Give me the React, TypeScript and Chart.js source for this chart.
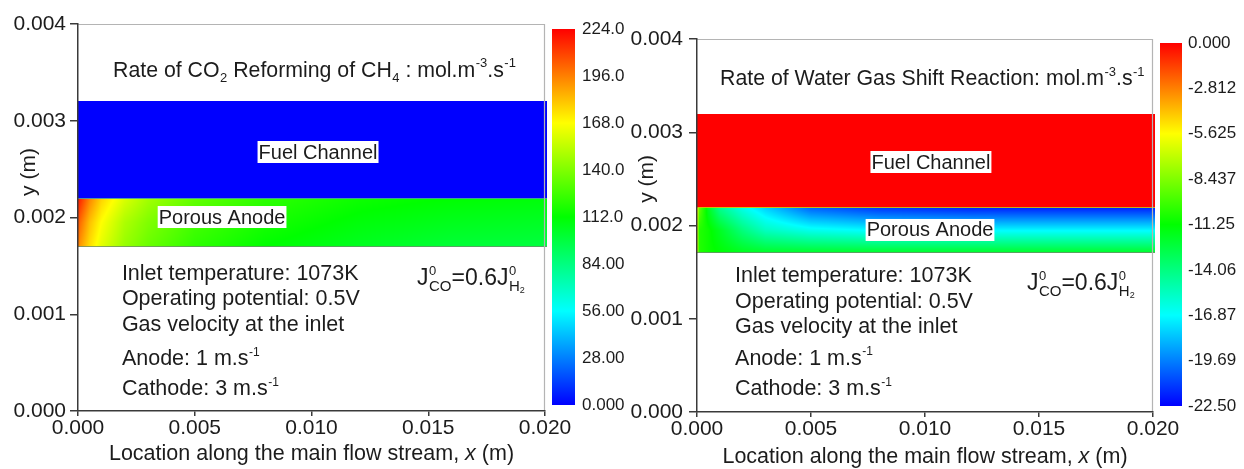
import React, { useEffect, useRef } from 'react';
import { Chart, registerables } from 'chart.js';
Chart.register(...registerables);

// ---------- data ----------
const xTickValues = [0, 0.005, 0.01, 0.015, 0.02];
const xTickLabels = ['0.000', '0.005', '0.010', '0.015', '0.020'];
const yTickValues = [0, 0.001, 0.002, 0.003, 0.004];
const yTickLabels = ['0.000', '0.001', '0.002', '0.003', '0.004'];

// sampling grid of the porous anode field (m)
const gridX = [0, 0.0001, 0.0005, 0.001, 0.002, 0.003, 0.005, 0.008, 0.012, 0.016, 0.02];
const gridY = [0.0022, 0.00195, 0.0017];

const channelRange = [0.0022, 0.0032];
const anodeRange = [0.0017, 0.0022];

// Rate of CO2 reforming of CH4 (mol m^-3 s^-1)
const reformTop = [220, 215, 195, 178, 160, 148, 134, 122, 115, 112, 110];
const reformMid = [208, 200, 182, 168, 150, 140, 127, 117, 110, 106, 104];
const reformBot = [198, 190, 175, 162, 145, 135, 122, 112, 105, 100, 98];
const reformChannel = 0;

// Rate of water gas shift reaction (mol m^-3 s^-1)
const wgsTop = [-5, -9, -12, -14.5, -16.5, -18, -20.5, -21.5, -22, -22, -22];
const wgsMid = [-6, -10.5, -11, -12, -14, -15.5, -16.5, -17, -17, -17, -17];
const wgsBot = [-6, -10.5, -11, -11.3, -11.8, -12, -12, -12, -12, -12, -12];
const wgsChannel = 0;

const reformBarValues = [224, 196, 168, 140, 112, 84, 56, 28, 0];
const reformBarLabels = ['224.0', '196.0', '168.0', '140.0', '112.0', '84.00', '56.00', '28.00', '0.000'];
const wgsBarValues = [0, -2.8125, -5.625, -8.4375, -11.25, -14.0625, -16.875, -19.6875, -22.5];
const wgsBarLabels = ['0.000', '-2.812', '-5.625', '-8.437', '-11.25', '-14.06', '-16.87', '-19.69', '-22.50'];

const infoLines = ['Inlet temperature: 1073K', 'Operating potential: 0.5V', 'Gas velocity at the inlet'];

// ---------- style ----------
const FONT = '"Liberation Sans", Arial, Helvetica, sans-serif';
const TEXT = '#1c1c1c';
const AXIS = '#3a3a3a';

const stops: [number, number[]][] = [
  [0, [0, 0, 255]],
  [0.25, [0, 255, 255]],
  [0.5, [0, 255, 0]],
  [0.75, [255, 255, 0]],
  [1, [255, 0, 0]],
];
function cmap(t: number): number[] {
  t = Math.max(0, Math.min(1, t));
  for (let i = 0; i < stops.length - 1; i++) {
    const [t0, c0] = stops[i];
    const [t1, c1] = stops[i + 1];
    if (t <= t1) {
      const f = (t - t0) / (t1 - t0);
      return [0, 1, 2].map((k) => Math.round(c0[k] + (c1[k] - c0[k]) * f));
    }
  }
  return stops[stops.length - 1][1];
}
const rgb = (c: number[]) => `rgb(${c[0]},${c[1]},${c[2]})`;

function fieldAt(x: number, y: number, rows: number[][]): number {
  let i = 0;
  while (i < gridX.length - 2 && x > gridX[i + 1]) i++;
  let fx = (x - gridX[i]) / (gridX[i + 1] - gridX[i]);
  fx = Math.max(0, Math.min(1, fx));
  let j = 0;
  while (j < gridY.length - 2 && y < gridY[j + 1]) j++;
  let fy = (gridY[j] - y) / (gridY[j] - gridY[j + 1]);
  fy = Math.max(0, Math.min(1, fy));
  const a = rows[j][i] + (rows[j][i + 1] - rows[j][i]) * fx;
  const b = rows[j + 1][i] + (rows[j + 1][i + 1] - rows[j + 1][i]) * fx;
  return a + (b - a) * fy;
}

type Seg = { t?: string; it?: boolean; sup?: string; sub?: string; subsub?: string };
interface RichOpts { size: number; supSize: number; subSize: number }
const font = (size: number, it = false) => `${it ? 'italic ' : ''}${size}px ${FONT}`;

function drawRich(ctx: CanvasRenderingContext2D, segs: Seg[], x: number, yMid: number, o: RichOpts, align: 'left' | 'center' = 'left', draw = true): number {
  const base = yMid + o.size * 0.36;
  let cx = x;
  if (align === 'center') {
    const w = drawRich(ctx, segs, 0, 0, o, 'left', false);
    cx = x - w / 2;
  }
  const start = cx;
  ctx.textBaseline = 'alphabetic';
  ctx.textAlign = 'left';
  for (const s of segs) {
    if (s.t) {
      ctx.font = font(o.size, s.it);
      if (draw) ctx.fillText(s.t, cx, base);
      cx += ctx.measureText(s.t).width;
    }
    let adv = 0;
    if (s.sup) {
      ctx.font = font(o.supSize);
      if (draw) ctx.fillText(s.sup, cx + 0.5, base - o.size * 0.43);
      adv = Math.max(adv, ctx.measureText(s.sup).width + 0.5);
    }
    if (s.sub) {
      ctx.font = font(o.subSize);
      if (draw) ctx.fillText(s.sub, cx + 0.5, base + o.size * 0.24);
      let sw = ctx.measureText(s.sub).width + 0.5;
      if (s.subsub) {
        ctx.font = font(o.subSize * 0.6);
        if (draw) ctx.fillText(s.subsub, cx + sw, base + o.size * 0.32);
        sw += ctx.measureText(s.subsub).width;
      }
      adv = Math.max(adv, sw);
    }
    cx += adv;
  }
  return cx - start;
}

interface Panel {
  width: number;
  area: { left: number; top: number; right: number; bottom: number };
  rows: number[][];
  channel: number;
  vmin: number;
  vmax: number;
  cbMin: number;
  cbMax: number;
  barValues: number[];
  barLabels: string[];
  barOffset: number;
  barWidth: number;
  labelPad: number;
  yLabelPad: number;
  boundaryColor: string;
  title: Seg[];
  titlePos: [number, number];
  fuelPos: [number, number];
  anodePos: [number, number];
  infoX: number;
  infoY: number[];
  jPos: [number, number];
  yTitle: [number, number];
  xTitleDy: number;
}

const leftPanel: Panel = {
  width: 632,
  area: { left: 78, top: 24, right: 545, bottom: 411 },
  rows: [reformTop, reformMid, reformBot],
  channel: reformChannel,
  vmin: 0,
  vmax: 224,
  cbMin: -3.574,
  cbMax: 226.98,
  barValues: reformBarValues,
  barLabels: reformBarLabels,
  barOffset: 7,
  barWidth: 23,
  labelPad: 37,
  yLabelPad: 4,
  boundaryColor: 'rgba(70,150,170,0.9)',
  title: [{ t: 'Rate of CO', sub: '2' }, { t: ' Reforming of CH', sub: '4' }, { t: ' : mol.m', sup: '-3' }, { t: '.s', sup: '-1' }],
  titlePos: [0.0015, 0.003535],
  fuelPos: [0.01028, 0.002677],
  anodePos: [0.00617, 0.002005],
  infoX: 0.00188,
  infoY: [0.001437, 0.001178, 0.00091, 0.000558, 0.000248],
  jPos: [0.01452, 0.001385],
  yTitle: [27, 0.00247],
  xTitleDy: 41,
};

const rightPanel: Panel = {
  width: 616,
  area: { left: 69, top: 39, right: 525, bottom: 412 },
  rows: [wgsTop, wgsMid, wgsBot],
  channel: wgsChannel,
  vmin: -22.5,
  vmax: 0,
  cbMin: -22.872,
  cbMax: 0.248,
  barValues: wgsBarValues,
  barLabels: wgsBarLabels,
  barOffset: 7,
  barWidth: 22,
  labelPad: 35,
  yLabelPad: 6,
  boundaryColor: 'rgba(220,190,0,0.9)',
  title: [{ t: 'Rate of Water Gas Shift Reaction: mol.m', sup: '-3' }, { t: '.s', sup: '-1' }],
  titlePos: [0.00101, 0.003592],
  fuelPos: [0.01026, 0.002681],
  anodePos: [0.01022, 0.001952],
  infoX: 0.00167,
  infoY: [0.00148, 0.0012, 0.000933, 0.00059, 0.000268],
  jPos: [0.01447, 0.001394],
  yTitle: [17, 0.0025],
  xTitleDy: 43,
};

function makeChart(canvas: HTMLCanvasElement, p: Panel) {
  const norm = (v: number) => (v - p.vmin) / (p.vmax - p.vmin);
  const plugin = {
    id: 'field' + p.width,
    beforeDraw(chart: any) {
      const { ctx, scales } = chart;
      const xs = scales.x, ys = scales.y, cb = scales.cb;
      ctx.save();
      const x0 = Math.round(xs.getPixelForValue(gridX[0]));
      const x1 = Math.round(xs.getPixelForValue(gridX[gridX.length - 1]));
      // fuel channel
      const cy0 = Math.round(ys.getPixelForValue(channelRange[1]));
      const cy1 = Math.round(ys.getPixelForValue(channelRange[0]));
      ctx.fillStyle = rgb(cmap(norm(p.channel)));
      ctx.fillRect(x0, cy0, x1 - x0 + 2, cy1 - cy0);
      // porous anode field
      const ay0 = cy1;
      const ay1 = Math.round(ys.getPixelForValue(anodeRange[0]));
      const w = x1 - x0 + 2, h = ay1 - ay0;
      const off = document.createElement('canvas');
      off.width = w; off.height = h;
      const octx = off.getContext('2d')!;
      const img = octx.createImageData(w, h);
      for (let j = 0; j < h; j++) {
        const yv = ys.getValueForPixel(ay0 + j + 0.5);
        for (let i = 0; i < w; i++) {
          const xv = Math.min(0.02, xs.getValueForPixel(x0 + i + 0.5));
          const c = cmap(norm(fieldAt(xv, yv, p.rows)));
          const k = (j * w + i) * 4;
          img.data[k] = c[0]; img.data[k + 1] = c[1]; img.data[k + 2] = c[2]; img.data[k + 3] = 255;
        }
      }
      octx.putImageData(img, 0, 0);
      ctx.drawImage(off, x0, ay0);
      // boundary lines
      ctx.strokeStyle = p.boundaryColor;
      ctx.lineWidth = 1;
      ctx.beginPath();
      ctx.moveTo(x0, ay0 + 0.5); ctx.lineTo(x1 + 2, ay0 + 0.5);
      ctx.stroke();
      ctx.strokeStyle = 'rgba(110,140,110,0.8)';
      ctx.beginPath();
      ctx.moveTo(x0, ay1 - 0.5); ctx.lineTo(x1 + 2, ay1 - 0.5);
      ctx.stroke();
      // frame (top & right)
      const a = chart.chartArea;
      ctx.strokeStyle = '#b4b4b4';
      ctx.lineWidth = 1.2;
      ctx.beginPath();
      ctx.moveTo(a.left, a.top + 0.5); ctx.lineTo(a.right - 0.5, a.top + 0.5); ctx.lineTo(a.right - 0.5, a.bottom);
      ctx.stroke();
      // colour bar
      const bTop = cb.getPixelForValue(p.vmax), bBot = cb.getPixelForValue(p.vmin);
      const g = ctx.createLinearGradient(0, bBot, 0, bTop);
      for (const [t, c] of stops) g.addColorStop(t, rgb(c));
      ctx.fillStyle = g;
      ctx.fillRect(cb.left + p.barOffset, bTop, p.barWidth, bBot - bTop);
      ctx.restore();
    },
    afterDraw(chart: any) {
      const { ctx, scales, chartArea: a } = chart;
      const xs = scales.x, ys = scales.y;
      const X = (v: number) => xs.getPixelForValue(v);
      const Y = (v: number) => ys.getPixelForValue(v);
      ctx.save();
      ctx.fillStyle = TEXT;
      // title
      drawRich(ctx, p.title, X(p.titlePos[0]), Y(p.titlePos[1]), { size: 21.3, supSize: 13, subSize: 13 });
      // boxed labels
      const box = (txt: string, pos: [number, number]) => {
        ctx.font = font(20);
        const tw = ctx.measureText(txt).width;
        const cx = X(pos[0]), cy = Y(pos[1]);
        ctx.fillStyle = '#ffffff';
        ctx.fillRect(cx - tw / 2 - 1, cy - 11, tw + 2, 22);
        ctx.fillStyle = TEXT;
        ctx.textAlign = 'center';
        ctx.textBaseline = 'middle';
        ctx.fillText(txt, cx, cy + 1);
      };
      box('Fuel Channel', p.fuelPos);
      box('Porous Anode', p.anodePos);
      // info text
      const io = { size: 21.5, supSize: 12, subSize: 12 };
      infoLines.forEach((s, i) => drawRich(ctx, [{ t: s }], X(p.infoX), Y(p.infoY[i]), io));
      drawRich(ctx, [{ t: 'Anode: 1 m.s', sup: '-1' }], X(p.infoX), Y(p.infoY[3]), io);
      drawRich(ctx, [{ t: 'Cathode: 3 m.s', sup: '-1' }], X(p.infoX), Y(p.infoY[4]), io);
      // J formula
      drawRich(ctx, [{ t: 'J', sup: '0', sub: 'CO' }, { t: '=0.6J', sup: '0', sub: 'H', subsub: '2' }], X(p.jPos[0]), Y(p.jPos[1]), { size: 23, supSize: 13, subSize: 15 });
      // axis titles
      drawRich(ctx, [{ t: 'Location along the main flow stream, ' }, { t: 'x', it: true }, { t: ' (m)' }], (a.left + a.right) / 2, a.bottom + p.xTitleDy, { size: 21.5, supSize: 12, subSize: 12 }, 'center');
      ctx.save();
      ctx.translate(p.yTitle[0], Y(p.yTitle[1]));
      ctx.rotate(-Math.PI / 2);
      drawRich(ctx, [{ t: 'y (m)' }], 0, 0, { size: 21, supSize: 12, subSize: 12 }, 'center');
      ctx.restore();
      ctx.restore();
    },
  };

  const labelFor = (vals: number[], labels: string[]) => (v: any) => {
    const i = vals.findIndex((q) => Math.abs(q - v) < 1e-9);
    return i >= 0 ? labels[i] : '';
  };

  return new Chart(canvas, {
    type: 'scatter',
    data: { datasets: [{ data: [], xAxisID: 'x', yAxisID: 'y' }] },
    options: {
      animation: false,
      responsive: false,
      devicePixelRatio: 1,
      events: [],
      layout: { padding: { top: p.area.top, left: 0, right: 0, bottom: 0 } },
      plugins: { legend: { display: false }, tooltip: { enabled: false } },
      scales: {
        x: {
          type: 'linear',
          position: 'bottom',
          min: 0,
          max: 0.02,
          afterBuildTicks: (s: any) => { s.ticks = xTickValues.map((v) => ({ value: v })); },
          afterFit: (s: any) => { s.height = 469 - p.area.bottom; },
          ticks: { callback: labelFor(xTickValues, xTickLabels), font: { family: FONT, size: 21 }, color: TEXT, padding: 0, maxRotation: 0, autoSkip: false },
          grid: { drawOnChartArea: false, drawTicks: true, tickLength: 5, color: AXIS, lineWidth: 1.5 },
          border: { color: AXIS, width: 1.5 },
        },
        y: {
          type: 'linear',
          position: 'left',
          min: 0,
          max: 0.004,
          afterBuildTicks: (s: any) => { s.ticks = yTickValues.map((v) => ({ value: v })); },
          afterFit: (s: any) => { s.width = p.area.left; },
          ticks: { callback: labelFor(yTickValues, yTickLabels), font: { family: FONT, size: 21 }, color: TEXT, padding: p.yLabelPad, autoSkip: false },
          grid: { drawOnChartArea: false, drawTicks: true, tickLength: 8, color: AXIS, lineWidth: 1.5 },
          border: { color: AXIS, width: 1.5 },
        },
        cb: {
          type: 'linear',
          position: 'right',
          min: p.cbMin,
          max: p.cbMax,
          afterBuildTicks: (s: any) => { s.ticks = p.barValues.map((v) => ({ value: v })); },
          afterFit: (s: any) => { s.width = p.width - p.area.right; },
          ticks: { callback: labelFor(p.barValues, p.barLabels), font: { family: FONT, size: 17 }, color: TEXT, padding: 0, autoSkip: false },
          // tick marks are hidden (display:false); tickLength only offsets the labels
          grid: { display: false, drawTicks: true, tickLength: p.labelPad },
          border: { display: false },
        },
      },
    } as any,
    plugins: [plugin as any],
  });
}

export default function App() {
  const leftRef = useRef<HTMLCanvasElement>(null);
  const rightRef = useRef<HTMLCanvasElement>(null);
  useEffect(() => {
    document.body.style.margin = '0';
    const c1 = makeChart(leftRef.current!, leftPanel);
    const c2 = makeChart(rightRef.current!, rightPanel);
    return () => {
      c1.destroy();
      c2.destroy();
    };
  }, []);
  return (
    <div style={{ position: 'relative', width: 1244, height: 469, background: '#ffffff', overflow: 'hidden' }}>
      <canvas ref={leftRef} width={632} height={469} style={{ position: 'absolute', left: 0, top: 0, width: 632, height: 469 }} />
      <canvas ref={rightRef} width={616} height={469} style={{ position: 'absolute', left: 628, top: 0, width: 616, height: 469 }} />
    </div>
  );
}
